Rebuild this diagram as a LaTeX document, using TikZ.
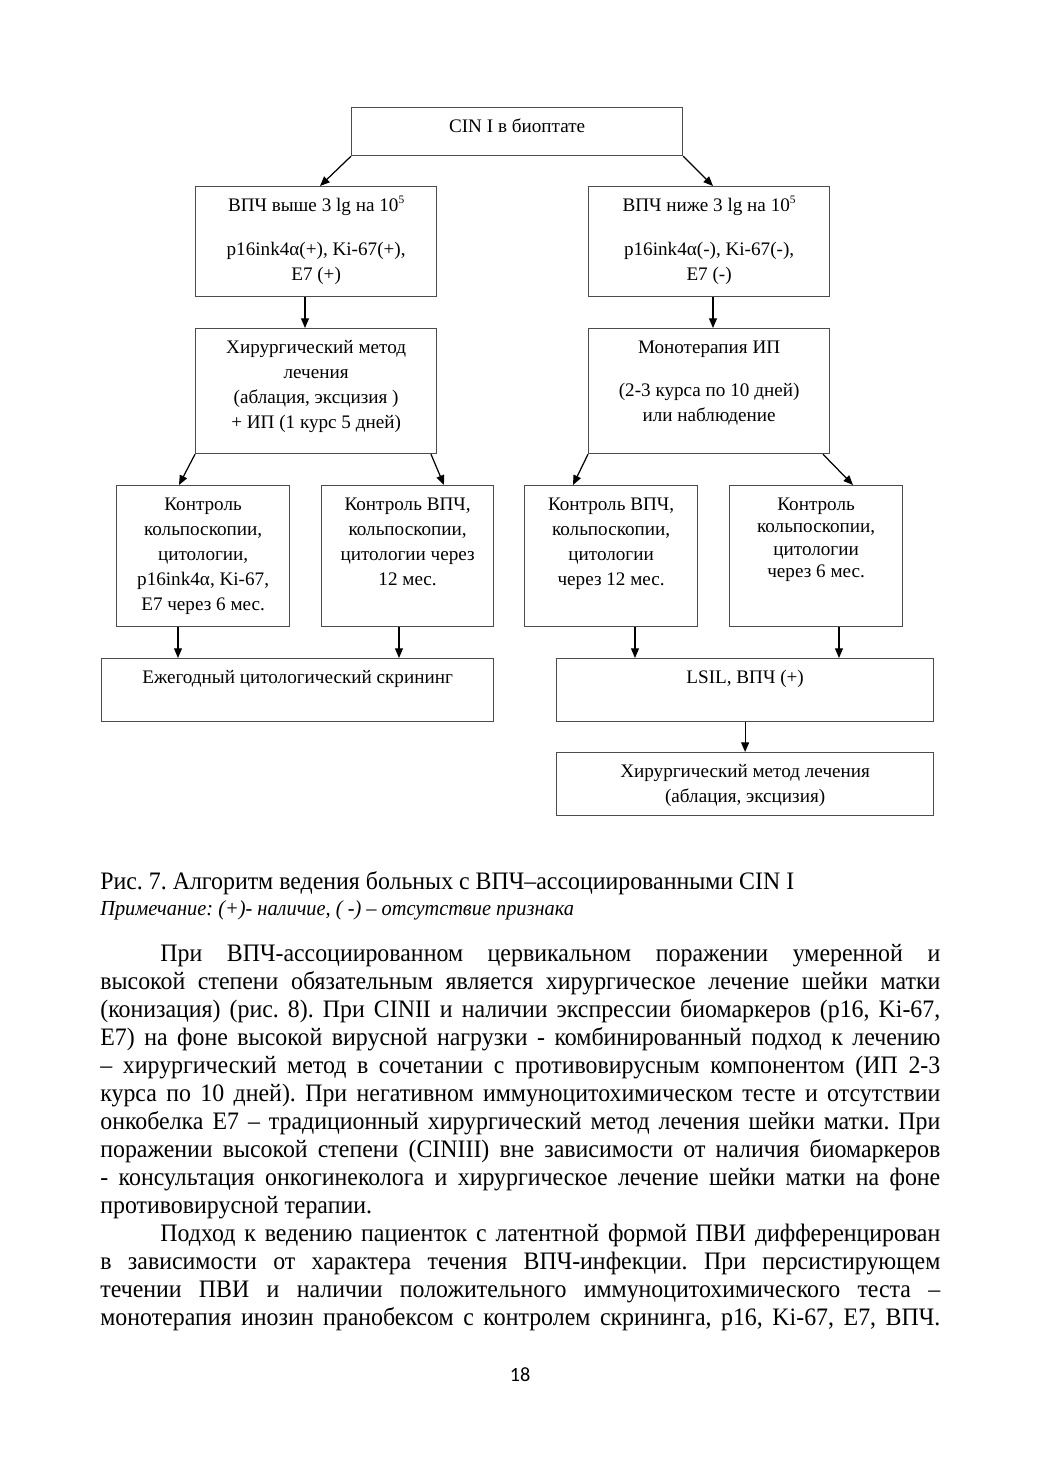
\documentclass[tikz,border=0pt]{standalone}
\usepackage{fontspec}
\setmainfont{Liberation Serif}
\newfontfamily\bodyfont[FakeStretch=0.95]{Liberation Serif}
\newfontfamily\numfont{Carlito}
\usetikzlibrary{arrows.meta,calc}
\frenchspacing

\newlength{\pxu}
\setlength{\pxu}{0.02cm}
% box content: width, height (in px), text at the top
\newcommand{\cellbox}[3]{\parbox[c][#2\pxu][t]{#1\pxu}{\centering\rule{0pt}{14pt}#3}}
\newcommand{\powfive}{\raisebox{4.5pt}{\fontsize{6.5}{6.5}\selectfont 5}}

\begin{document}
\begin{tikzpicture}[
x=0.02cm, y=-0.02cm,
box/.style={draw=black!70, line width=0.7pt, inner sep=0pt, anchor=north west, font=\fontsize{10.9}{14.2}\selectfont},
arrow/.style={-{Triangle[length=5.5pt,width=4.5pt]}, line width=0.7pt},
bodyline/.style={anchor=base west, inner sep=0pt, font=\bodyfont\fontsize{14.3}{16}\selectfont},
note/.style={anchor=base west, inner sep=0pt, font=\bodyfont\itshape\fontsize{12.2}{14}\selectfont}
]
\useasboundingbox (0,0) rectangle (1039,1471);
\fill[white] (0,0) rectangle (1039,1471);

\node[box] (biopsy) at (351,107) {\cellbox{331}{48}{CIN I в биоптате}};
\node[box] (vhigh) at (195,186) {\cellbox{241}{110}{ВПЧ выше 3 lg на 10\powfive\\[11pt] p16ink4α(+), Ki-67(+),\\ E7 (+)}};
\node[box] (vlow) at (588,186) {\cellbox{241}{110}{ВПЧ ниже 3 lg на 10\powfive\\[11pt] p16ink4α(-), Ki-67(-),\\ E7 (-)}};
\node[box] (surg) at (195,328) {\cellbox{241}{125}{Хирургический метод\\ лечения\\ (аблация, эксцизия )\\ + ИП (1 курс 5 дней)}};
\node[box] (mono) at (588,328) {\cellbox{241}{125}{Монотерапия ИП\\[10.5pt] (2-3 курса по 10 дней)\\ или наблюдение}};
\node[box] (ctrlA) at (116,485) {\cellbox{173}{141}{Контроль\\ кольпоскопии,\\ цитологии,\\ p16ink4α, Ki-67,\\ E7 через 6 мес.}};
\node[box] (ctrlB) at (321,485) {\cellbox{172}{141}{Контроль ВПЧ,\\ кольпоскопии,\\ цитологии через\\ 12 мес.}};
\node[box] (ctrlC) at (524,485) {\cellbox{173}{141}{Контроль ВПЧ,\\ кольпоскопии,\\ цитологии\\ через 12 мес.}};
\node[box] (ctrlD) at (729,485) {\cellbox{173}{141}{Контроль\\[-1.4pt] кольпоскопии,\\[-1.4pt] цитологии\\[-1.4pt] через 6 мес.}};
\node[box] (yearly) at (101,658) {\cellbox{392}{63}{Ежегодный цитологический скрининг}};
\node[box] (lsil) at (556,658) {\cellbox{377}{63}{LSIL, ВПЧ (+)}};
\node[box] (final) at (556,752) {\cellbox{377}{63}{Хирургический метод лечения\\ (аблация, эксцизия)}};

\draw[arrow] (biopsy.south west) -- (vhigh.north -| 320,0);
\draw[arrow] (biopsy.south east) -- (vlow.north -| 713,0);
\draw[arrow] (vhigh.south -| 305,0) -- (surg.north -| 305,0);
\draw[arrow] (vlow.south -| 713,0) -- (mono.north -| 713,0);
\draw[arrow] (surg.south west) -- (ctrlA.north -| 179,0);
\draw[arrow] (surg.south -| 431,0) -- (ctrlB.north -| 444,0);
\draw[arrow] (mono.south west) -- (ctrlC.north -| 573,0);
\draw[arrow] (mono.south -| 823,0) -- (ctrlD.north -| 853,0);
\draw[arrow] (ctrlA.south -| 178,0) -- (yearly.north -| 178,0);
\draw[arrow] (ctrlB.south -| 399,0) -- (yearly.north -| 399,0);
\draw[arrow] (ctrlC.south -| 635,0) -- (lsil.north -| 635,0);
\draw[arrow] (ctrlD.south -| 839,0) -- (lsil.north -| 839,0);
\draw[arrow] (lsil) -- (final);

% caption and text
\node[bodyline] (caption) at (100,889) {Рис. 7. Алгоритм ведения больных с ВПЧ–ассоциированными CIN I};
\node[note] (remark) at (100,915) {Примечание: (+)- наличие, ( -) – отсутствие признака};

\node[bodyline] (l1) at (160,961) {\makebox[780\pxu][s]{При ВПЧ-ассоциированном цервикальном поражении умеренной и}};
\node[bodyline] (l2) at (100,989) {\makebox[840\pxu][s]{высокой степени обязательным является хирургическое лечение шейки матки}};
\node[bodyline] (l3) at (100,1017) {\makebox[840\pxu][s]{(конизация) (рис. 8). При CINII и наличии экспрессии биомаркеров (p16, Ki-67,}};
\node[bodyline] (l4) at (100,1045) {\makebox[840\pxu][s]{E7) на фоне высокой вирусной нагрузки - комбинированный подход к лечению}};
\node[bodyline] (l5) at (100,1073) {\makebox[840\pxu][s]{– хирургический метод в сочетании с противовирусным компонентом (ИП 2-3}};
\node[bodyline] (l6) at (100,1101) {\makebox[840\pxu][s]{курса по 10 дней). При негативном иммуноцитохимическом тесте и отсутствии}};
\node[bodyline] (l7) at (100,1129) {\makebox[840\pxu][s]{онкобелка Е7 – традиционный хирургический метод лечения шейки матки. При}};
\node[bodyline] (l8) at (100,1157) {\makebox[840\pxu][s]{поражении высокой степени (CINIII) вне зависимости от наличия биомаркеров}};
\node[bodyline] (l9) at (100,1185) {\makebox[840\pxu][s]{- консультация онкогинеколога и хирургическое лечение шейки матки на фоне}};
\node[bodyline] (l10) at (100,1213) {противовирусной терапии.};
\node[bodyline] (l11) at (160,1241) {\makebox[780\pxu][s]{Подход к ведению пациенток с латентной формой ПВИ дифференцирован}};
\node[bodyline] (l12) at (100,1269) {\makebox[840\pxu][s]{в зависимости от характера течения ВПЧ-инфекции. При персистирующем}};
\node[bodyline] (l13) at (100,1297) {\makebox[840\pxu][s]{течении ПВИ и наличии положительного иммуноцитохимического теста –}};
\node[bodyline] (l14) at (100,1325) {\makebox[840\pxu][s]{монотерапия инозин пранобексом с контролем скрининга, p16, Ki-67, E7, ВПЧ.}};

\node[font=\numfont\fontsize{11.5}{14}\selectfont] (pagenum) at (520,1375) {18};
\end{tikzpicture}
\end{document}
